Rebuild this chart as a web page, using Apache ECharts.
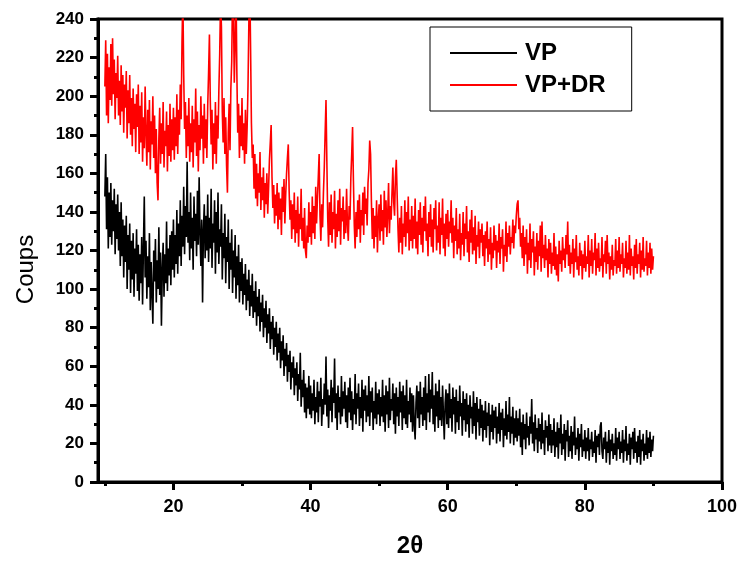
<!DOCTYPE html>
<html>
<head>
<meta charset="utf-8">
<script src="https://cdn.jsdelivr.net/npm/echarts@6/dist/echarts.min.js"></script>
<style>html,body{margin:0;padding:0;background:#fff}#c{width:741px;height:563px}</style>
</head>
<body>
<div id="c"></div>
<script>
// Scan grid (2θ): first measured point and step between points
const scanStart = 10;
const scanStep = 0.125;

// VP+DR intensities (Coups), 10.000 .. 90.000 (one row = 5°)
const vpdrValues = [
  205,229,190,222,186,215,198,227,195,230,201,219,188,212,199,221,190,208,185,216,192,211,181,206,194,213,178,203,186,211,180,199,174,204,183,196,171,201,184,206,
  170,195,176,202,166,189,173,205,181,164,193,171,198,162,187,175,200,168,190,160,183,155,146,178,194,165,186,170,197,163,182,174,192,161,185,169,196,166,188,172,
  194,167,189,174,201,170,193,180,206,188,228,252,211,183,197,168,190,174,199,166,186,171,195,163,188,176,204,169,192,161,185,172,200,178,190,165,196,173,188,168,
  195,212,232,198,175,193,162,186,170,197,165,190,178,203,222,250,236,192,176,199,170,189,164,150,181,196,172,204,218,255,246,207,226,258,212,181,196,168,190,174,
  199,172,186,165,193,170,184,205,238,262,225,186,168,175,152,170,147,165,143,160,150,171,141,158,146,163,137,155,144,160,139,152,167,176,185,158,142,154,134,149,
  138,155,131,150,136,147,128,153,140,157,134,149,160,168,175,151,136,146,126,144,131,150,124,141,129,148,122,139,131,152,125,137,121,142,120,116,133,124,145,127,
  140,123,148,129,143,126,153,134,147,158,170,138,125,144,132,150,163,181,198,166,137,122,145,128,149,124,140,131,151,121,139,127,146,130,152,123,142,135,148,126,
  141,129,152,134,125,143,136,158,170,184,156,133,121,140,127,146,131,149,124,141,133,150,128,153,139,147,133,155,162,177,170,145,126,142,121,138,127,146,119,136,
  144,125,149,130,141,123,151,132,146,127,139,155,129,143,136,150,163,145,138,158,167,149,131,119,137,124,143,118,134,127,146,122,140,129,148,120,136,125,143,121,
  138,126,147,121,135,118,141,128,145,123,137,119,143,130,148,125,134,117,140,127,144,122,136,119,142,131,146,120,133,124,145,118,137,128,147,121,134,117,139,126,
  141,122,135,129,146,124,137,116,133,125,142,118,131,121,139,115,129,123,140,117,134,126,143,119,130,114,136,124,141,118,132,120,138,113,128,122,135,116,131,124,
  134,117,128,112,130,121,135,114,126,118,132,110,124,116,133,120,128,111,125,119,134,113,127,121,131,109,123,117,135,114,129,122,133,118,127,124,136,121,133,129,
  138,144,146,131,137,122,129,116,133,112,127,118,131,108,124,115,134,111,126,119,130,107,122,114,129,110,125,117,133,109,135,116,123,111,128,115,121,106,126,113,
  124,108,119,112,129,110,122,107,118,104,125,113,120,109,127,115,121,111,128,118,135,112,123,108,119,113,126,106,121,114,128,110,117,107,124,112,120,105,118,111,
  125,109,117,113,128,106,120,112,126,108,119,115,129,107,121,111,124,109,116,112,127,106,118,114,125,108,128,113,119,105,117,110,123,107,115,112,126,108,120,111,
  127,109,118,113,124,106,116,111,125,108,119,110,128,107,121,112,117,105,123,111,126,108,118,113,124,106,120,110,127,109,116,112,125,107,119,111,124,108,121,110,
  117
];

// VP intensities (Coups), 10.000 .. 90.000 (one row = 5°)
const vpValues = [
  148,170,131,158,121,150,127,155,123,146,130,152,118,144,126,149,120,140,112,145,117,136,106,133,114,138,100,128,110,134,98,125,105,129,96,121,108,131,99,123,
  94,118,103,127,92,122,148,106,125,95,117,101,129,89,114,98,82,120,104,126,93,115,100,132,97,119,81,110,124,96,118,103,135,99,121,107,128,102,130,110,
  136,106,128,113,141,108,134,117,146,112,138,122,153,118,143,127,166,124,140,115,150,121,137,110,148,125,139,117,151,123,158,129,112,136,93,131,144,116,138,120,
  149,114,137,121,152,111,134,124,146,108,140,119,150,113,131,122,144,105,129,116,139,103,127,114,136,100,124,110,131,98,120,106,128,95,117,102,123,93,114,99,
  116,92,108,97,113,89,105,94,110,86,102,91,108,85,99,88,104,81,96,86,100,78,93,83,97,75,90,80,94,72,87,77,90,69,83,74,86,66,80,70,
  83,63,77,67,80,59,73,63,76,55,69,60,72,52,66,57,68,48,62,54,65,45,59,50,62,42,56,48,67,39,53,44,58,36,51,33,49,38,55,35,
  50,33,46,37,53,30,44,36,52,31,47,39,54,29,43,35,51,40,65,34,48,28,45,37,53,31,49,41,64,33,46,27,50,36,44,30,55,34,47,38,
  52,31,45,28,49,36,54,32,47,27,43,35,56,30,46,38,51,29,44,33,53,26,48,37,50,31,45,34,55,29,47,36,49,27,42,33,52,30,46,35,
  48,29,44,34,53,31,45,26,50,35,47,28,54,32,43,37,51,30,46,25,49,34,44,29,52,36,47,27,50,33,45,30,53,28,42,35,49,31,46,26,
  45,30,22,41,50,33,47,28,52,35,44,29,49,32,55,27,46,36,56,31,48,38,57,30,45,26,51,34,47,28,53,32,44,29,50,35,22,41,48,30,
  46,28,51,33,43,26,49,35,44,25,48,31,42,27,50,34,41,24,47,32,43,26,46,30,40,23,45,33,39,25,47,29,41,22,44,31,38,24,43,28,
  40,21,37,27,42,23,36,29,41,19,35,26,40,22,37,28,39,20,34,25,41,21,36,27,38,18,33,24,42,22,35,26,44,20,34,25,39,19,33,23,
  37,21,33,24,38,18,31,14,35,22,30,17,36,23,29,19,34,25,43,20,31,16,35,22,28,15,33,21,30,17,36,20,27,14,32,23,29,16,35,19,
  30,15,27,19,33,13,26,18,31,12,28,20,35,14,25,17,30,11,27,21,32,13,24,16,29,12,26,19,34,14,23,17,28,11,25,18,30,13,22,16,
  27,12,23,16,28,11,22,17,26,13,21,15,27,10,24,18,25,14,29,31,16,12,23,17,26,10,21,15,27,9,22,16,25,12,20,14,28,11,23,17,
  26,12,21,15,27,10,22,16,29,11,20,14,25,9,23,17,26,12,28,15,21,10,24,13,27,9,22,16,25,11,20,14,27,12,23,15,26,13,22,16,
  24
];

const seriesNames = ['VP', 'VP+DR'];
const xMajorTicks = [20, 40, 60, 80, 100];
const xMinorTicks = [10, 30, 50, 70, 90];

const toPairs = vals => vals.map((v, i) => [+(scanStart + i * scanStep).toFixed(3), v]);

const FONT = "'Liberation Sans', Arial, sans-serif";
const chart = echarts.init(document.getElementById('c'), null, { renderer: 'canvas' });
chart.setOption({
  animation: false,
  backgroundColor: '#fff',
  textStyle: { fontFamily: FONT },
  grid: { left: 98, right: 19, top: 19, bottom: 79, show: true, borderColor: '#000', borderWidth: 3, backgroundColor: 'transparent' },
  legend: {
    data: seriesNames,
    orient: 'vertical',
    left: 430, top: 27,
    padding: [14, 26, 14, 20],
    itemWidth: 67, itemHeight: 2, itemGap: 8,
    icon: 'rect',
    borderColor: '#000', borderWidth: 1,
    backgroundColor: '#fff',
    textStyle: { fontSize: 24, fontWeight: 'bold', color: '#000', fontFamily: FONT, padding: [0, 0, 0, 3] }
  },
  xAxis: [
    {
      type: 'value', min: 9, max: 100, position: 'bottom',
      name: '2θ', nameLocation: 'middle', nameGap: 52,
      nameTextStyle: { fontSize: 24, fontWeight: 'bold', color: '#000', fontFamily: FONT },
      axisLine: { lineStyle: { color: '#000', width: 3 } },
      axisTick: { customValues: xMajorTicks, length: 8, lineStyle: { color: '#000', width: 3 } },
      axisLabel: { customValues: xMajorTicks, fontSize: 18, fontWeight: 'bold', color: '#000', margin: 16, fontFamily: FONT },
      splitLine: { show: false }
    },
    {
      type: 'value', min: 9, max: 100, position: 'bottom',
      axisLine: { show: false },
      axisTick: { customValues: xMinorTicks, length: 4, lineStyle: { color: '#000', width: 3 } },
      axisLabel: { show: false },
      splitLine: { show: false }
    }
  ],
  yAxis: {
    type: 'value', min: 0, max: 240, interval: 20,
    name: 'Coups', nameLocation: 'middle', nameGap: 60,
    nameTextStyle: { fontSize: 24, color: '#000', fontFamily: FONT, padding: [0, 38, 0, 0] },
    axisLine: { show: true, lineStyle: { color: '#000', width: 3 } },
    axisTick: { show: true, length: 8, lineStyle: { color: '#000', width: 3 } },
    minorTick: { show: true, splitNumber: 2, length: 4, lineStyle: { color: '#000', width: 3 } },
    axisLabel: { fontSize: 17, fontWeight: 'bold', color: '#000', margin: 14, fontFamily: FONT },
    splitLine: { show: false },
    minorSplitLine: { show: false }
  },
  series: [
    { name: seriesNames[0], type: 'line', data: toPairs(vpValues), symbol: 'none', showSymbol: false,
      color: '#000', lineStyle: { color: '#000', width: 1.6 }, clip: true },
    { name: seriesNames[1], type: 'line', data: toPairs(vpdrValues), symbol: 'none', showSymbol: false,
      color: '#ff0000', lineStyle: { color: '#ff0000', width: 1.6 }, clip: true }
  ]
});
</script>
</body>
</html>
